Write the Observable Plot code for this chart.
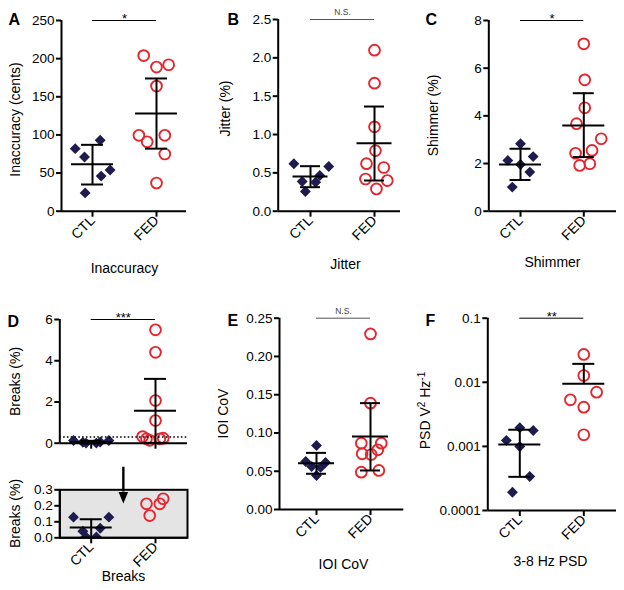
<!DOCTYPE html>
<html><head><meta charset="utf-8">
<script src="https://cdn.jsdelivr.net/npm/d3@7"></script>
<script src="https://cdn.jsdelivr.net/npm/@observablehq/plot@0.6"></script>
<style>
body{margin:0;background:#fff;}
#fig{position:relative;width:624px;height:590px;overflow:hidden;background:#fff;}
#fig svg{position:absolute;overflow:visible;}
</style></head><body><div id="fig"></div>
<script>
const groups = ["CTL", "FED"];
const navy = "#1e1b4f", red = "#e5262e";
const FONT = '"Liberation Sans", Arial, Helvetica, sans-serif';

// Panel A – Inaccuracy (cents)
const aCtl = [82, 71, 93, 46, 54, 24];
const aCtlJit = [-0.27, -0.125, 0.12, 0.135, 0.275, -0.115];
const aFed = [204, 189, 192, 164, 99.5, 91, 99.5, 75, 37];
const aFedJit = [-0.2, 0, 0.19, 0, -0.275, -0.145, 0.13, 0.13, 0];
const aMean = [61.5, 128], aLo = [35, 82], aHi = [87, 174];

// Panel B – Jitter (%)
const bCtl = [0.618, 0.583, 0.387, 0.466, 0.378, 0.257];
const bCtlJit = [-0.26, 0.285, -0.13, 0.145, 0.08, -0.08];
const bFed = [2.10, 1.67, 1.10, 0.79, 0.62, 0.57, 0.42, 0.40, 0.29];
const bFedJit = [0, 0, 0, 0.015, -0.125, 0.145, -0.14, 0.2, 0.03];
const bMean = [0.452, 0.887], bLo = [0.313, 0.40], bHi = [0.587, 1.365];

// Panel C – Shimmer (%)
const cCtl = [2.83, 2.13, 2.29, 1.96, 1.64, 1.01];
const cCtlJit = [0, -0.2, 0.2, 0, 0.147, -0.13];
const cFed = [7.02, 5.51, 4.34, 3.67, 3.04, 2.55, 2.43, 1.92, 1.99];
const cFedJit = [0, 0.015, 0.015, -0.115, 0.275, 0.13, -0.13, -0.065, 0.095];
const cMean = [1.96, 3.59], cLo = [1.31, 2.27], cHi = [2.62, 4.95];

// Panel D – Breaks (%)
const dCtl = [0.129, 0.129, 0.041, 0.06, 0.005, 0.005];
const dCtlJit = [-0.275, 0.275, -0.13, 0.14, -0.08, 0.08];
const dFed = [5.5, 4.41, 2.07, 1.10, 0.32, 0.244, 0.2125, 0.2125, 0.139];
const dFedJit = [0, 0, 0, 0, -0.2, 0.12, -0.14, 0.067, -0.09];
const dMean = [0.064, 1.58], dLo = [0, 0.02], dHi = [0.116, 3.12];
const dCutoff = 0.3;

// Panel E – IOI CoV
const eCtl = [0.0836, 0.0627, 0.0614, 0.0562, 0.055, 0.0444];
const eCtlJit = [0, -0.2, 0.167, -0.09, 0.075, 0];
const eFed = [0.2295, 0.139, 0.0867, 0.0867, 0.078, 0.0728, 0.0719, 0.051, 0.0488];
const eFedJit = [0, 0, -0.17, 0.2, 0.135, -0.155, 0.013, 0.155, -0.17];
const eMean = [0.0605, 0.0954], eLo = [0.0467, 0.051], eHi = [0.074, 0.139];

// Panel F – 3-8 Hz PSD
const fCtl = [0.00195, 0.00177, 0.00124, 0.000996, 0.000339, 0.000193];
const fCtlJit = [0, 0.21, -0.21, 0, 0.155, -0.115];
const fFed = [0.0272, 0.01276, 0.00701, 0.00533, 0.00409, 0.00152];
const fFedJit = [0, 0, 0.2, -0.21, 0, 0];
const fMean = [0.00107, 0.00948], fLo = [0.000335, null], fHi = [0.00182, 0.0194];

const letters = ["A", "B", "C", "D", "E", "F"];
const sigLabels = ["*", "N.S.", "*", "***", "N.S.", "**"];
const yLabels = ["Inaccuracy (cents)", "Jitter (%)", "Shimmer (%)", "Breaks (%)", "IOI CoV", "PSD V2Hz-1"];
const titles = ["Inaccuracy", "Jitter", "Shimmer", "Breaks", "IOI CoV", "3-8 Hz PSD"];

const fig = document.getElementById("fig");

function panel(cfg) {
  const {box, frame, ctlPx, fedPx} = cfg;
  const sp = fedPx - ctlPx;
  const xd = [1 - (ctlPx - frame.x0) / sp, 2 + (frame.x1 - fedPx) / sp];
  const yd = cfg.yDomain;
  const clip = !!cfg.clip;
  const ann = (t, ax, ay, o) => Plot.text([t], {text: d => d, frameAnchor: "top-left",
    dx: ax - frame.x0, dy: ay - frame.y0, fill: "black", ...o});
  const marks = [];
  if (cfg.frameFill) marks.push(Plot.frame({fill: cfg.frameFill, stroke: "none"}));
  if (cfg.ctl) {
    const ctlPts = cfg.ctl.map((v, i) => ({x: 1 + cfg.ctlJit[i], y: v}));
    marks.push(Plot.dot(ctlPts, {x: "x", y: "y", symbol: "diamond2", fill: navy, stroke: "none", r: 4.9, clip}));
  }
  if (cfg.fed) {
    const fedPts = cfg.fed.map((v, i) => ({x: 2 + cfg.fedJit[i], y: v}));
    marks.push(Plot.dot(fedPts, {x: "x", y: "y", symbol: "circle", fill: "none", stroke: red, strokeWidth: 1.9, r: 5.4, clip}));
  }
  if (cfg.cutoff != null) marks.push(Plot.ruleY([cfg.cutoff], {x1: xd[0], x2: xd[1], strokeWidth: 1.6, strokeDasharray: "1.6,2.2"}));
  if (cfg.mean) {
    const stats = cfg.mean.map((m, i) => ({x: i + 1, mean: m, lo: cfg.lo[i], hi: cfg.hi[i]}))
      .filter((d, i) => !cfg.statsOnly || cfg.statsOnly.includes(i));
    const mh = cfg.meanHalf / sp, ch = cfg.capHalf / sp;
    marks.push(
      Plot.ruleX(stats, {x: "x", y1: d => d.lo ?? d.mean, y2: "hi", strokeWidth: 2, clip}),
      Plot.ruleY(stats.filter(d => d.lo != null), {y: "lo", x1: d => d.x - ch, x2: d => d.x + ch, strokeWidth: 2, clip}),
      Plot.ruleY(stats, {y: "hi", x1: d => d.x - ch, x2: d => d.x + ch, strokeWidth: 2, clip}),
      Plot.ruleY(stats, {y: "mean", x1: d => d.x - mh, x2: d => d.x + mh, strokeWidth: 2, clip})
    );
  }
  if (cfg.frameFill) marks.push(Plot.frame({stroke: "black", strokeWidth: 2}));
  marks.push(
    Plot.ruleX([xd[0]], {y1: yd[0], y2: yd[1], strokeWidth: 2}),
    Plot.ruleY([yd[0]], {x1: xd[0], x2: xd[1], strokeWidth: 2}),
    Plot.axisY({ticks: cfg.yTicks, tickFormat: cfg.yFormat, tickSize: 5, tickPadding: 2, strokeWidth: 2, fontSize: 13.5, label: null}),
    Plot.axisX({ticks: [1, 2], tickFormat: cfg.noXLabels ? () => "" : d => groups[d - 1],
      tickRotate: -45, tickSize: 6, tickPadding: 1, strokeWidth: 2, fontSize: 14, label: null})
  );
  if (cfg.sig) {
    const ns = cfg.sig === "N.S.";
    marks.push(
      Plot.ruleY([yd[1]], {x1: 1, x2: 2, stroke: ns ? "#555" : "black", strokeWidth: 1}),
      Plot.text([cfg.sig], {x: 1.5, y: yd[1], text: d => d, lineAnchor: "middle",
        fontSize: ns ? 8.5 : 13, dy: ns ? -6.8 : -1.3, fill: ns ? "#444" : "black"})
    );
  }
  if (cfg.arrow) {
    const a = cfg.arrow;
    marks.push(
      Plot.ruleX([1.5], {y1: a.from, y2: a.base, strokeWidth: 2.4}),
      Plot.vector([1.5], {x: d => d, y: a.base, shape: "spike", anchor: "start", rotate: 180,
        length: a.len, r: 4.8, fill: "black", stroke: "none"})
    );
  }
  if (cfg.letter) marks.push(ann(cfg.letter, cfg.letterPos[0], cfg.letterPos[1],
    {fontSize: 16, fontWeight: "bold", textAnchor: "start", lineAnchor: "top"}));
  if (cfg.yLabel) marks.push(ann(cfg.yLabel, cfg.yLabelPos[0], cfg.yLabelPos[1],
    {fontSize: 14, rotate: -90, textAnchor: "middle", lineAnchor: "middle"}));
  if (cfg.title) marks.push(ann(cfg.title, cfg.titlePos[0], cfg.titlePos[1],
    {fontSize: 14, textAnchor: "middle", lineAnchor: "top"}));

  const svg = Plot.plot({
    width: box.w, height: box.h,
    marginLeft: frame.x0 - box.left, marginRight: box.left + box.w - frame.x1,
    marginTop: frame.y0 - box.top, marginBottom: box.top + box.h - frame.y1,
    x: {type: "linear", domain: xd},
    y: {type: cfg.yType || "linear", domain: yd},
    style: {fontFamily: FONT, color: "black", background: "transparent", overflow: "visible"},
    marks
  });
  // render the unit label with true superscripts
  if (cfg.superLabel) {
    for (const t of svg.querySelectorAll("text")) {
      if (t.textContent === cfg.yLabel) {
        t.innerHTML = 'PSD V<tspan baseline-shift="super" font-size="10">2</tspan>' +
          ' Hz<tspan baseline-shift="super" font-size="10">-1</tspan>';
      }
    }
  }
  svg.style.position = "absolute";
  svg.style.left = box.left + "px";
  svg.style.top = box.top + "px";
  fig.appendChild(svg);
}

// A
panel({box: {left: 0, top: 0, w: 205, h: 290}, frame: {x0: 61, x1: 186, y0: 20, y1: 210.7},
  ctlPx: 92, fedPx: 156, meanHalf: 21, capHalf: 11,
  ctl: aCtl, ctlJit: aCtlJit, fed: aFed, fedJit: aFedJit, mean: aMean, lo: aLo, hi: aHi,
  yDomain: [0, 250], yTicks: [0, 50, 100, 150, 200, 250], yFormat: d3.format("d"),
  sig: sigLabels[0], letter: letters[0], letterPos: [8, 13],
  yLabel: yLabels[0], yLabelPos: [15, 119], title: titles[0], titlePos: [124, 263]});

// B
panel({box: {left: 205, top: 0, w: 200, h: 290}, frame: {x0: 277.7, x1: 400, y0: 19, y1: 210.7},
  ctlPx: 310, fedPx: 374, meanHalf: 17.5, capHalf: 10,
  ctl: bCtl, ctlJit: bCtlJit, fed: bFed, fedJit: bFedJit, mean: bMean, lo: bLo, hi: bHi,
  yDomain: [0, 2.5], yTicks: [0, 0.5, 1, 1.5, 2, 2.5], yFormat: d3.format(".1f"),
  sig: sigLabels[1], letter: letters[1], letterPos: [227, 13],
  yLabel: yLabels[1], yLabelPos: [225, 108], title: titles[1], titlePos: [345, 259]});

// C
panel({box: {left: 405, top: 0, w: 219, h: 290}, frame: {x0: 488.3, x1: 616, y0: 20, y1: 210.7},
  ctlPx: 520, fedPx: 583.3, meanHalf: 21, capHalf: 10.5,
  ctl: cCtl, ctlJit: cCtlJit, fed: cFed, fedJit: cFedJit, mean: cMean, lo: cLo, hi: cHi,
  yDomain: [0, 8], yTicks: [0, 2, 4, 6, 8], yFormat: d3.format("d"),
  sig: sigLabels[2], letter: letters[2], letterPos: [425, 13],
  yLabel: yLabels[2], yLabelPos: [433, 115], title: titles[2], titlePos: [552, 257]});

// D (top)
panel({box: {left: 0, top: 290, w: 205, h: 165}, frame: {x0: 59.3, x1: 187, y0: 319, y1: 442.7},
  ctlPx: 90.7, fedPx: 155, meanHalf: 21, capHalf: 11,
  ctl: dCtl, ctlJit: dCtlJit, fed: dFed, fedJit: dFedJit, mean: dMean, lo: dLo, hi: dHi,
  yDomain: [0, 6], yTicks: [0, 2, 4, 6], yFormat: d3.format("d"), cutoff: dCutoff, noXLabels: true,
  sig: sigLabels[3], letter: letters[3], letterPos: [7, 315],
  yLabel: yLabels[3], yLabelPos: [15, 381]});

// D (inset, values below the cutoff)
panel({box: {left: 0, top: 455, w: 205, h: 135}, frame: {x0: 59.3, x1: 187, y0: 489.3, y1: 537.3},
  ctlPx: 90.7, fedPx: 155, meanHalf: 21, capHalf: 11, clip: true, frameFill: "#e4e4e4",
  ctl: dCtl, ctlJit: dCtlJit, fed: dFed.filter(v => v < dCutoff), fedJit: dFedJit.filter((j, i) => dFed[i] < dCutoff),
  mean: dMean, lo: dLo, hi: dHi, statsOnly: [0],
  yDomain: [0, dCutoff], yTicks: [0, 0.1, 0.2, 0.3], yFormat: d3.format(".1f"),
  arrow: {from: 0.441, base: 0.286, len: 11.5},
  yLabel: yLabels[3], yLabelPos: [15, 513], title: titles[3], titlePos: [123, 571]});

// E
panel({box: {left: 205, top: 290, w: 200, h: 300}, frame: {x0: 279, x1: 403.3, y0: 317.7, y1: 509},
  ctlPx: 316, fedPx: 370, meanHalf: 18, capHalf: 10,
  ctl: eCtl, ctlJit: eCtlJit, fed: eFed, fedJit: eFedJit, mean: eMean, lo: eLo, hi: eHi,
  yDomain: [0, 0.25], yTicks: [0, 0.05, 0.1, 0.15, 0.2, 0.25], yFormat: d3.format(".2f"),
  sig: sigLabels[4], letter: letters[4], letterPos: [227, 314],
  yLabel: yLabels[4], yLabelPos: [223, 413], title: titles[4], titlePos: [343, 559]});

// F
panel({box: {left: 405, top: 290, w: 219, h: 300}, frame: {x0: 487.3, x1: 616, y0: 317.7, y1: 510},
  ctlPx: 519.3, fedPx: 583.3, meanHalf: 21, capHalf: 11,
  ctl: fCtl, ctlJit: fCtlJit, fed: fFed, fedJit: fFedJit, mean: fMean, lo: fLo, hi: fHi,
  yType: "log", yDomain: [0.0001, 0.1], yTicks: [0.0001, 0.001, 0.01, 0.1], yFormat: d => String(d),
  sig: sigLabels[5], letter: letters[5], letterPos: [425, 314], superLabel: true,
  yLabel: yLabels[5], yLabelPos: [425, 410], title: titles[5], titlePos: [550, 556]});
</script>
</body></html>
